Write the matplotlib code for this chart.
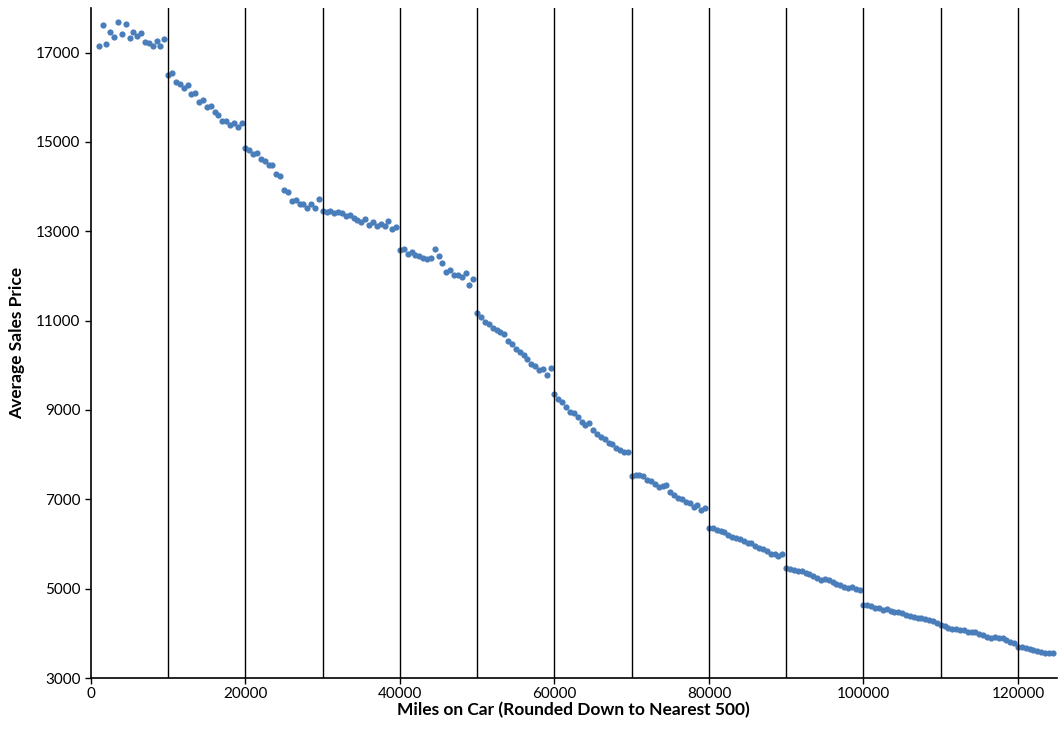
import numpy as np
import matplotlib
matplotlib.use('Agg')
import matplotlib.pyplot as plt

plt.rcParams['font.family'] = ['Lato', 'DejaVu Sans']

# miles rounded down to nearest 500, from 1000 up to 124500
miles = np.arange(1000, 125000, 500)

price_0_10k = [17140, 17620, 17200, 17470, 17340, 17690, 17420, 17640, 17330,
               17470, 17380, 17450, 17240, 17220, 17140, 17250, 17150, 17300]
price_10_20k = [16500, 16540, 16350, 16300, 16210, 16270, 16080, 16100, 15900, 15950,
                15780, 15810, 15660, 15610, 15470, 15470, 15390, 15430, 15330, 15430]
price_20_30k = [14870, 14810, 14720, 14750, 14630, 14580, 14480, 14490, 14290, 14230,
                13930, 13870, 13680, 13710, 13610, 13610, 13520, 13610, 13520, 13730]
price_30_40k = [13450, 13430, 13450, 13400, 13430, 13400, 13340, 13370, 13290, 13260,
                13200, 13280, 13150, 13200, 13110, 13170, 13110, 13220, 13060, 13090]
price_40_50k = [12590, 12610, 12500, 12540, 12480, 12440, 12410, 12390, 12410, 12610,
                12450, 12280, 12100, 12140, 12020, 12030, 11980, 12070, 11800, 11930]
price_50_60k = [11180, 11090, 10980, 10930, 10840, 10800, 10740, 10690, 10540, 10470,
                10360, 10290, 10220, 10140, 10030, 9990, 9900, 9910, 9780, 9950]
price_60_70k = [9350, 9240, 9190, 9070, 8960, 8930, 8840, 8730, 8660, 8700,
                8550, 8470, 8400, 8350, 8260, 8230, 8140, 8100, 8060, 8050]
price_70_80k = [7530, 7550, 7550, 7530, 7430, 7400, 7350, 7280, 7290, 7330,
                7160, 7100, 7020, 7000, 6950, 6910, 6830, 6880, 6750, 6810]
price_80_90k = [6350, 6350, 6320, 6290, 6260, 6210, 6160, 6140, 6110, 6060,
                6020, 6030, 5950, 5920, 5880, 5840, 5780, 5770, 5730, 5780]
price_90_100k = [5460, 5450, 5420, 5400, 5390, 5360, 5320, 5290, 5240, 5200,
                 5210, 5200, 5150, 5110, 5080, 5040, 5020, 5030, 4990, 4960]
price_100_110k = [4630, 4630, 4610, 4570, 4560, 4530, 4540, 4510, 4480, 4470,
                  4450, 4420, 4390, 4370, 4350, 4340, 4310, 4290, 4280, 4230, 4190]
price_110_125k = [4160, 4130, 4100, 4090, 4070, 4070, 4040, 4030, 4020, 3990,
                  3960, 3920, 3890, 3920, 3900, 3890, 3850, 3810, 3780, 3700,
                  3690, 3670, 3640, 3630, 3610, 3590, 3570, 3550, 3560]

price = (price_0_10k + price_10_20k + price_20_30k + price_30_40k + price_40_50k
         + price_50_60k + price_60_70k + price_70_80k + price_80_90k
         + price_90_100k + price_100_110k + price_110_125k)

divider_miles = [10000, 20000, 30000, 40000, 50000, 60000,
                 70000, 80000, 90000, 100000, 110000, 120000]
x_ticks = [0, 20000, 40000, 60000, 80000, 100000, 120000]
y_ticks = [3000, 5000, 7000, 9000, 11000, 13000, 15000, 17000]

fig = plt.figure(figsize=(10.6, 7.38), dpi=100)
ax = fig.add_axes([0.0858, 0.0813, 0.9110, 0.9079])

ax.scatter(miles, price, s=20, color='#4A7EBB', linewidths=0, zorder=2)
for m in divider_miles:
    ax.axvline(m, color='black', lw=1.0, zorder=3)

ax.set_xlim(0, 125000)
ax.set_ylim(3000, 18000)
ax.set_xticks(x_ticks)
ax.set_yticks(y_ticks)
ax.tick_params(labelsize=11, length=4, width=1, color='black')
ax.tick_params(axis='x', pad=2.5)

for side in ['top', 'right']:
    ax.spines[side].set_visible(False)
for side in ['left', 'bottom']:
    ax.spines[side].set_color('black')
    ax.spines[side].set_linewidth(1.2)

ax.set_xlabel('Miles on Car (Rounded Down to Nearest 500)', fontsize=12.5,
              fontweight='bold', labelpad=1)
ax.set_ylabel('Average Sales Price', fontsize=12.5, fontweight='bold', labelpad=8)

fig.savefig('out.png', dpi=100)
